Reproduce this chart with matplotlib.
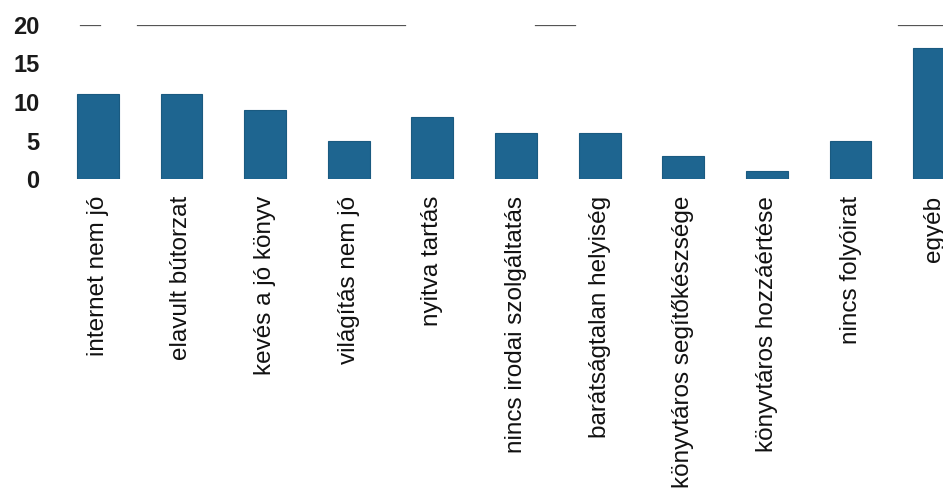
import numpy as np
import matplotlib
matplotlib.use('Agg')
import matplotlib.pyplot as plt

#----------------------------------------------------------------------------------------------
# data
categories = ['internet nem jó', 'elavult bútorzat', 'kevés a jó könyv', 'világítás nem jó',
              'nyitva tartás', 'nincs irodai szolgáltatás', 'barátságtalan helyiség',
              'könyvtáros segítőkészsége', 'könyvtáros hozzáértése', 'nincs folyóirat', 'egyéb']
values = [11, 11, 9, 5, 8, 6, 6, 3, 1, 5, 17]
yticks = [0, 5, 10, 15, 20]

barColor = '#1e6590'

plt.rcParams['font.family'] = ['Liberation Sans', 'DejaVu Sans']

#----------------------------------------------------------------------------------------------
fig = plt.figure(figsize=(9.43, 4.88), dpi=100)

# the original is cropped: the last bar and the title run off the page
ax = fig.add_axes([56/943, (488-179)/488, (976-56)/943, (179-25)/488])

x = np.arange(len(categories))
ax.bar(x, values, width=0.5, color=barColor, edgecolor='#1a5a80', lw=0.8, zorder=2)

# broken, faded top gridline of the scan
for a, b in [(0.026, 0.048), (0.088, 0.379), (0.521, 0.564), (0.915, 0.964)]:
    ax.axhline(20, color='#555555', lw=0.9, xmin=a, xmax=b, zorder=1)

ax.set_xlim(-0.5, len(categories) - 0.5)
ax.set_ylim(0, 20)

ax.set_yticks(yticks)
ax.set_yticklabels([str(t) for t in yticks], fontsize=17, fontweight='bold', color='#1a1a1a')
ax.set_xticks(x)
ax.set_xticklabels(categories, rotation=90, fontsize=17.5, color='#111111')

ax.tick_params(axis='x', length=0, pad=12)
ax.tick_params(axis='y', length=0, pad=12)

for s in ax.spines.values():
    s.set_visible(False)

fig.savefig('out.png', dpi=100)
